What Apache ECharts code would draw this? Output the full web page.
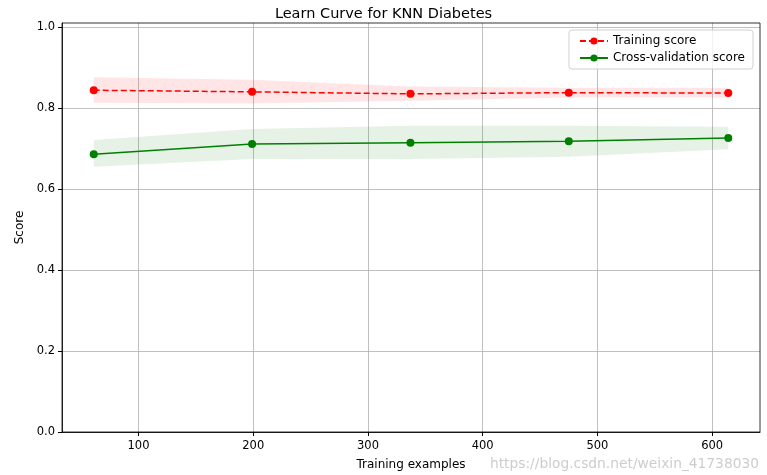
<!DOCTYPE html>
<html><head><meta charset="utf-8">
<script src="https://cdn.jsdelivr.net/npm/echarts@6/dist/echarts.min.js"></script>
<style>html,body{margin:0;padding:0;background:#fff}#c{width:767px;height:475px}</style>
</head><body><div id="c"></div>
<script>
const trainSizes = [61, 199, 337, 475, 614];
const trainMean = [0.844, 0.840, 0.835, 0.838, 0.837];
const trainLow  = [0.813, 0.811, 0.818, 0.826, 0.826];
const trainHigh = [0.876, 0.870, 0.853, 0.850, 0.850];
const cvMean = [0.686, 0.711, 0.714, 0.718, 0.726];
const cvLow  = [0.655, 0.674, 0.674, 0.680, 0.698];
const cvHigh = [0.721, 0.748, 0.756, 0.756, 0.754];
const xTicks = [100, 200, 300, 400, 500, 600];
const yTicks = [0, 0.2, 0.4, 0.6, 0.8, 1.0];

const font = 'DejaVu Sans';
const pair = (xs, ys) => xs.map((x, i) => [x, ys[i]]);

function band(xs, lo, hi, color) {
  return {
    type: 'custom', silent: true, z: 1,
    data: xs.map((x, i) => [x, lo[i], hi[i]]),
    encode: { x: 0, y: [1, 2] },
    renderItem: function (params, api) {
      if (params.dataIndex !== 0) return null;
      const pts = [];
      for (let i = 0; i < xs.length; i++) pts.push(api.coord([xs[i], hi[i]]));
      for (let i = xs.length - 1; i >= 0; i--) pts.push(api.coord([xs[i], lo[i]]));
      return { type: 'polygon', shape: { points: pts }, style: { fill: color } };
    }
  };
}

const chart = echarts.init(document.getElementById('c'));
chart.setOption({
  animation: false,
  title: { text: 'Learn Curve for KNN Diabetes', left: 'center', top: 2,
    textStyle: { fontFamily: font, fontSize: 14.5, fontWeight: 'normal', color: '#000' } },
  grid: { left: 62, right: 7, top: 23, bottom: 43, containLabel: false, outerBoundsMode: 'none' },
  legend: {
    right: 14, top: 30, orient: 'vertical', itemGap: 5, itemWidth: 28, itemHeight: 9,
    padding: [5, 8, 5, 10], borderColor: '#d0d0d0', borderWidth: 1, borderRadius: 3,
    backgroundColor: 'rgba(255,255,255,0.8)',
    textStyle: { fontFamily: font, fontSize: 12, color: '#000' },
    data: ['Training score', 'Cross-validation score']
  },
  xAxis: {
    type: 'value', min: 33.35, max: 641.65,
    name: 'Training examples', nameLocation: 'middle', nameGap: 27,
    nameTextStyle: { fontFamily: font, fontSize: 12, color: '#000' },
    axisLine: { show: true, lineStyle: { color: '#000', width: 0.8 } },
    axisTick: { show: true, length: 4, customValues: xTicks, lineStyle: { color: '#000' } },
    axisLabel: { customValues: xTicks, fontFamily: font, fontSize: 11.5, color: '#000', margin: 8 },
    splitLine: { show: true, lineStyle: { color: '#b0b0b0', width: 0.8 } }
  },
  yAxis: {
    type: 'value', min: 0, max: 1.01,
    name: 'Score', nameLocation: 'middle', nameGap: 36,
    nameTextStyle: { fontFamily: font, fontSize: 12, color: '#000' },
    axisLine: { show: true, lineStyle: { color: '#000', width: 0.8 } },
    axisTick: { show: true, length: 4, customValues: yTicks, lineStyle: { color: '#000' } },
    axisLabel: { customValues: yTicks, fontFamily: font, fontSize: 11.5, color: '#000', margin: 7,
      formatter: v => v.toFixed(1) },
    splitLine: { show: true, lineStyle: { color: '#b0b0b0', width: 0.8 } }
  },
  graphic: [{ type: 'text', right: 8, bottom: 4,
    style: { text: 'https://blog.csdn.net/weixin_41738030', fontFamily: font, fontSize: 13.8, fill: 'rgba(200,200,200,0.9)' } },
    { type: 'rect', shape: { x: 62, y: 23, width: 698, height: 409 }, style: { fill: 'none', stroke: '#000', lineWidth: 0.8 }, z: 10 }],
  series: [
    band(trainSizes, trainLow, trainHigh, 'rgba(255,0,0,0.1)'),
    band(trainSizes, cvLow, cvHigh, 'rgba(0,128,0,0.1)'),
    { name: 'Training score', type: 'line', data: pair(trainSizes, trainMean), symbol: 'circle', symbolSize: 8,
      itemStyle: { color: '#ff0000' }, lineStyle: { color: '#ff0000', width: 1.5, type: [6, 3] }, z: 3 },
    { name: 'Cross-validation score', type: 'line', data: pair(trainSizes, cvMean), symbol: 'circle', symbolSize: 8,
      itemStyle: { color: '#008000' }, lineStyle: { color: '#008000', width: 1.5 }, z: 3 }
  ]
});
</script></body></html>
